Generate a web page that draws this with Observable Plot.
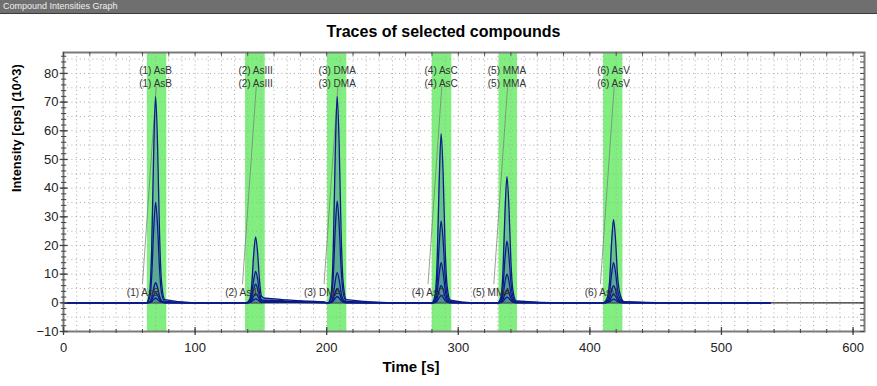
<!DOCTYPE html>
<html>
<head>
<meta charset="utf-8">
<script src="https://cdn.jsdelivr.net/npm/d3@7"></script>
<script src="https://cdn.jsdelivr.net/npm/@observablehq/plot@0.6"></script>
<style>
  html, body { margin: 0; padding: 0; background: #fff; width: 877px; height: 386px; overflow: hidden; font-family: "Liberation Sans", Arial, sans-serif; }
  #bar { height: 13px; background: #6f6f6f; border-bottom: 1px solid #3a3a3a; color: #f0f0f0; font-size: 9px; line-height: 13px; padding-left: 3px; }
  #title { height: 32px; text-align: center; font-weight: bold; font-size: 16px; line-height: 36px; color: #000; padding-left: 10px; box-sizing: border-box; }
  svg { display: block; }
</style>
</head>
<body>
<div id="bar">Compound Intensities Graph</div>
<div id="title">Traces of selected compounds</div>
<div id="chart"></div>
<script>
// ---- data ----
const peakNames = ["(1) AsB", "(2) AsIII", "(3) DMA", "(4) AsC", "(5) MMA", "(6) AsV"];
const peakTimes = [70, 146, 208, 287, 337, 418];
const bandStart = [63.7, 138.3, 200.6, 280.2, 330.9, 410.4];
const bandEnd   = [78.5, 153.3, 215.3, 295.1, 345.0, 425.1];

const times = [0, 55,
  63, 65.5, 67, 68.5, 70, 71.5, 73, 74.5, 77,
  100,
  139, 141.5, 143, 144.5, 146, 147.5, 149, 150.5, 153, 158, 170, 185, 198,
  201, 203.5, 205, 206.5, 208, 209.5, 211, 212.5, 215,
  250,
  280, 282.5, 284, 285.5, 287, 288.5, 290, 291.5, 294,
  312,
  330, 332.5, 334, 335.5, 337, 338.5, 340, 341.5, 344,
  380,
  410, 413, 415, 416.5, 418, 419.5, 421, 423, 426,
  460, 537];

const traceA = [0, 0,
  0, 3.6, 18.7, 51.8, 72, 54.7, 23.8, 7.2, 1.1,
  0,
  0, 1.2, 6, 16.6, 23, 17.5, 7.6, 2.3, 1.6, 1.5, 1.0, 0.6, 0.3,
  0, 3.6, 18.7, 51.8, 72, 54.7, 23.8, 7.2, 1.1,
  0,
  0, 3, 15.3, 42.5, 59, 44.8, 19.5, 5.9, 0.9,
  0,
  0, 2.2, 11.4, 31.7, 44, 33.4, 14.5, 4.4, 0.7,
  0,
  0, 1.5, 7.5, 20.9, 29, 22, 9.6, 2.9, 0.4,
  0, 0];
const traceB = [0, 0,
  0, 1.8, 9.1, 25.2, 35, 26.6, 11.6, 3.5, 0.5,
  0,
  0, 0.6, 2.9, 7.9, 11, 8.4, 3.6, 1.1, 0.9, 0.9, 0.6, 0.35, 0.2,
  0, 1.8, 9.2, 25.6, 35.5, 27, 11.7, 3.6, 0.5,
  0,
  0, 1.4, 7.4, 20.5, 28.5, 21.7, 9.4, 2.9, 0.4,
  0,
  0, 1.1, 5.6, 15.5, 21.5, 16.3, 7.1, 2.2, 0.3,
  0,
  0, 0.7, 3.6, 10.1, 14, 10.6, 4.6, 1.4, 0.2,
  0, 0];
const traceC = [0, 0,
  0, 0.4, 1.8, 5, 7, 5.3, 2.3, 0.7, 0.1,
  0,
  0, 0.3, 1.7, 4.7, 6.5, 4.9, 2.1, 0.7, 0.6, 0.6, 0.4, 0.25, 0.1,
  0, 0.5, 2.7, 7.6, 10.5, 8, 3.5, 1.1, 0.2,
  0,
  0, 0.7, 3.6, 10.1, 14, 10.6, 4.6, 1.4, 0.2,
  0,
  0, 0.5, 2.6, 7.2, 10, 7.6, 3.3, 1, 0.2,
  0,
  0, 0.3, 1.6, 4.3, 6, 4.6, 2, 0.6, 0.1,
  0, 0];
const traceD = [0, 0,
  0, 0.2, 0.9, 2.5, 3.5, 2.7, 1.2, 0.4, 0.1,
  0,
  0, 0.2, 0.8, 2.3, 3.2, 2.4, 1.1, 0.3, 0.4, 0.4, 0.3, 0.2, 0.1,
  0, 0.3, 1.3, 3.6, 5, 3.8, 1.7, 0.5, 0.1,
  0,
  0, 0.3, 1.6, 4.3, 6, 4.6, 2, 0.6, 0.1,
  0,
  0, 0.2, 1.2, 3.2, 4.5, 3.4, 1.5, 0.5, 0.1,
  0,
  0, 0.2, 0.8, 2.2, 3, 2.3, 1, 0.3, 0,
  0, 0];
const traceE = [0, 0,
  0, 0.1, 0.4, 1.2, 1.6, 1.2, 0.5, 0.2, 0,
  0,
  0, 0.1, 0.4, 1, 1.4, 1.1, 0.5, 0.1, 0.2, 0.2, 0.15, 0.1, 0,
  0, 0.1, 0.6, 1.6, 2.2, 1.7, 0.7, 0.2, 0,
  0,
  0, 0.1, 0.7, 1.8, 2.5, 1.9, 0.8, 0.3, 0,
  0,
  0, 0.1, 0.5, 1.4, 2, 1.5, 0.7, 0.2, 0,
  0,
  0, 0.1, 0.3, 0.9, 1.3, 1, 0.4, 0.1, 0,
  0, 0];

const xTicks = [0, 100, 200, 300, 400, 500, 600];
const yTicks = [-10, 0, 10, 20, 30, 40, 50, 60, 70, 80];
const xLabel = "Time [s]";
const yLabel = "Intensity [cps] (10^3)";

// ---- build tables ----
const traces = [traceA, traceB, traceC, traceD, traceE];
const rows = [];
traces.forEach((tr, k) => tr.forEach((v, i) => rows.push({trace: k, t: times[i], v})));
const peaks = peakNames.map((name, i) => ({name, t: peakTimes[i], x1: bandStart[i], x2: bandEnd[i]}));

const xMinor = d3.range(0, 601, 20);
const xGrid = d3.range(10, 601, 10);
const yMinor = d3.range(-10, 87, 2);
const yGrid = d3.range(-5, 87, 5);

const font = "Liberation Sans, Arial, sans-serif";
const curve = "monotone-x";

const chart = Plot.plot({
  width: 877,
  height: 340,
  marginLeft: 63,
  marginRight: 13,
  marginTop: 6,
  marginBottom: 55,
  style: {fontFamily: font, fontSize: "13px", color: "#222", background: "#fff"},
  x: {domain: [0, 608.7], ticks: xTicks, label: null},
  y: {domain: [-10, 87.3], ticks: yTicks, label: null},
  marks: [
    Plot.rect(peaks, {x1: "x1", x2: "x2", fill: "#80ef80"}),
    Plot.ruleX(xGrid, {stroke: "#a8a8a8", strokeDasharray: "1,3.2", strokeWidth: 1}),
    Plot.ruleY(yGrid, {stroke: "#a8a8a8", strokeDasharray: "1,3.2", strokeWidth: 1}),
    Plot.ruleY([0], {stroke: "#2a2a2a", strokeWidth: 1.2}),
    Plot.link(peaks, {x1: d => d.t - 10, y1: 6.5, x2: d => d.t + 0.5, y2: 75.5, stroke: "#777", strokeWidth: 0.7}),
    Plot.areaY(rows, {x: "t", y1: 0, y2: "v", z: "trace", fill: "#4a8c9c", fillOpacity: 0.45, curve}),
    Plot.text(peaks, {x: "t", y: 81, text: "name", fontSize: 10, fill: "#333"}),
    Plot.text(peaks, {x: "t", y: 76.4, text: "name", fontSize: 10, fill: "#333"}),
    Plot.line(rows, {x: "t", y: "v", z: "trace", stroke: "#0b1a8a", strokeWidth: 1.3, curve}),
    Plot.text(peaks, {x: "t", y: 3.6, text: "name", textAnchor: "end", dx: 4, fontSize: 10, fill: "#333"}),
    Plot.frame({stroke: "#7a7a7a", strokeWidth: 2}),
    // crossing ticks on bottom edge
    Plot.ruleX(xMinor, {y1: -10.7, y2: -9.3, stroke: "#444", strokeWidth: 1}),
    Plot.ruleX(xTicks, {y1: -11.4, y2: -8.6, stroke: "#444", strokeWidth: 1.3}),
    // inward ticks on top edge
    Plot.ruleX(xMinor, {y1: 87.3, y2: 86.0, stroke: "#444", strokeWidth: 1}),
    // crossing ticks on left edge and inward on right edge
    Plot.ruleY(yMinor, {x1: -1.5, x2: 2.5, stroke: "#444", strokeWidth: 1}),
    Plot.ruleY(yTicks, {x1: -2.5, x2: 3.5, stroke: "#444", strokeWidth: 1.3}),
    Plot.ruleY(yMinor, {x1: 605.7, x2: 608.7, stroke: "#444", strokeWidth: 1}),
    Plot.axisX(xTicks, {tickSize: 0, tickPadding: 11, fontSize: 13, fill: "#222"}),
    Plot.axisY(yTicks, {tickSize: 0, tickPadding: 5, fontSize: 13, fill: "#222"}),
    Plot.text([xLabel], {frameAnchor: "bottom", dy: 40, dx: -53, text: d => d, fontWeight: "bold", fontSize: 15, fill: "#000"}),
    Plot.text([yLabel], {frameAnchor: "left", dx: -47, rotate: -90, text: d => d, fontWeight: "bold", fontSize: 12.8, fill: "#000"})
  ]
});
document.getElementById("chart").appendChild(chart);
</script>
</body>
</html>
